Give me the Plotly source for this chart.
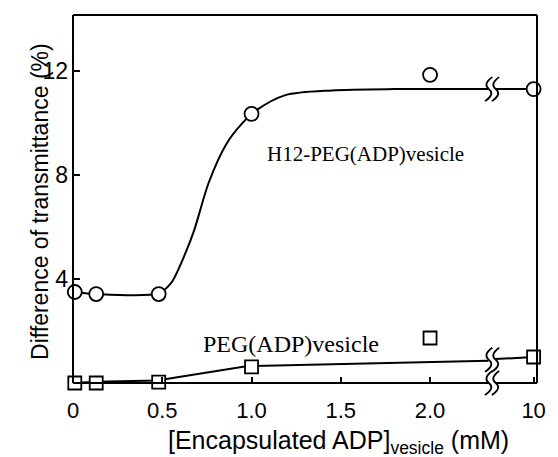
import plotly.graph_objects as go

# ---- measured data -------------------------------------------------------
# [Encapsulated ADP] (mM) for the points on the linear part of the axis
conc = [0.01, 0.13, 0.48, 1.0, 2.0]
conc_high_label = "10"          # the point beyond the axis break

# H12-PEG(ADP)vesicle
h12_y = [3.5, 3.42, 3.42, 10.35, 11.85]
h12_y_high = 11.3

# PEG(ADP)vesicle
peg_y = [0.0, 0.0, 0.03, 0.62, 1.73]
peg_y_high = 1.0

# guide curves drawn through the data
h12_fit_x = [0.01, 0.13, 0.48, 0.55, 0.63, 0.68, 0.76, 0.86, 0.95, 1.03, 1.19, 1.45, 1.8, 2.327]
h12_fit_y = [3.5, 3.42, 3.45, 3.85, 5.0, 5.9, 7.7, 9.2, 10.0, 10.5, 11.07, 11.25, 11.3, 11.3]
h12_fit_high_y = [11.3, 11.3]

peg_fit_x = [0.005, 0.13, 0.47, 0.98, 2.327]
peg_fit_y = [0.0, 0.05, 0.1, 0.65, 0.86]
peg_fit_high_y = [0.92, 1.0]

x_ticks = [0, 0.5, 1.0, 1.5, 2.0]
x_ticktext = ["0", "0.5", "1.0", "1.5", "2.0"]
y_ticks = [4, 8, 12]

# ---- axis geometry ---------------------------------------------------------
W, H = 558, 457
ML, MR, MT, MB = 73, 12, 15, 74
PW, PH = W - ML - MR, H - MT - MB
XR = [0, 2.599]
YR = [0, 14.15]
X_HIGH = 2.58        # axis position used for the 10 mM point
X_BREAK = 2.346      # centre of the break marks
X_SEG_END = 2.327    # lines stop / restart on either side of the break
X_SEG_START = 2.365

SANS = "Liberation Sans, Arial, sans-serif"
SERIF = "Liberation Serif, Times New Roman, serif"


def px(xd):
    return (xd - XR[0]) / (XR[1] - XR[0])


def py(yd):
    return (yd - YR[0]) / (YR[1] - YR[0])


def squiggle(xd, yd):
    """Two S-shaped strokes (in paper coords) marking an axis break."""
    cx, cy = px(xd), py(yd)
    paths = []
    for off in (-3.5, 3.5):
        pts = [(off + 4, -12), (off - 6, -5), (off + 0.5, 0),
               (off + 7, 5), (off - 3.5, 12)]
        p = [(cx + dx / PW, cy - dy / PH) for dx, dy in pts]
        paths.append(
            f"M {p[0][0]},{p[0][1]} Q {p[1][0]},{p[1][1]} {p[2][0]},{p[2][1]} "
            f"Q {p[3][0]},{p[3][1]} {p[4][0]},{p[4][1]}"
        )
    return [dict(type="path", xref="paper", yref="paper", path=s,
                 line=dict(color="black", width=1.8)) for s in paths]


fig = go.Figure()

line_style = dict(color="black", width=2)

# guide curves
fig.add_trace(go.Scatter(x=h12_fit_x, y=h12_fit_y, mode="lines",
                         line=dict(shape="spline", smoothing=0.8, **line_style),
                         hoverinfo="skip", showlegend=False, cliponaxis=False))
fig.add_trace(go.Scatter(x=[X_SEG_START, X_HIGH], y=h12_fit_high_y, mode="lines",
                         line=line_style, hoverinfo="skip", showlegend=False,
                         cliponaxis=False))
fig.add_trace(go.Scatter(x=peg_fit_x, y=peg_fit_y, mode="lines", line=line_style,
                         hoverinfo="skip", showlegend=False, cliponaxis=False))
fig.add_trace(go.Scatter(x=[X_SEG_START, X_HIGH], y=peg_fit_high_y, mode="lines",
                         line=line_style, hoverinfo="skip", showlegend=False,
                         cliponaxis=False))

# data points
all_x = conc + [X_HIGH]
fig.add_trace(go.Scatter(
    x=all_x, y=h12_y + [h12_y_high], mode="markers", name="H12-PEG(ADP)vesicle",
    marker=dict(symbol="circle", size=14, color="white",
                line=dict(color="black", width=1.8)),
    showlegend=False, cliponaxis=False))
fig.add_trace(go.Scatter(
    x=all_x, y=peg_y + [peg_y_high], mode="markers", name="PEG(ADP)vesicle",
    marker=dict(symbol="square", size=13, color="white",
                line=dict(color="black", width=1.8)),
    showlegend=False, cliponaxis=False))

# frame, with the bottom edge interrupted at the break
frame = dict(color="black", width=2)
shapes = [
    dict(type="line", xref="paper", yref="paper", x0=0, y0=0, x1=0, y1=1, line=frame),
    dict(type="line", xref="paper", yref="paper", x0=0, y0=1, x1=1, y1=1, line=frame),
    dict(type="line", xref="paper", yref="paper", x0=1, y0=0, x1=1, y1=1, line=frame),
    dict(type="line", xref="paper", yref="paper", x0=0, y0=0,
         x1=px(X_SEG_END), y1=0, line=frame),
    dict(type="line", xref="paper", yref="paper", x0=px(X_SEG_START), y0=0,
         x1=1, y1=0, line=frame),
]
shapes += squiggle(X_BREAK, 0)
shapes += squiggle(X_BREAK, h12_fit_high_y[0])
shapes += squiggle(X_BREAK, (peg_fit_y[-1] + peg_fit_high_y[0]) / 2)

annotations = [
    dict(text="H12-PEG(ADP)vesicle", x=1.64, y=8.8, xref="x", yref="y",
         showarrow=False, font=dict(family=SERIF, size=21, color="black")),
    dict(text="PEG(ADP)vesicle", x=1.22, y=1.5, xref="x", yref="y",
         showarrow=False, font=dict(family=SERIF, size=24, color="black")),
    dict(text="Difference of transmittance (%)", textangle=-90,
         x=(24 - ML) / PW, y=(H - MB - 201) / PH, xref="paper", yref="paper",
         showarrow=False, font=dict(family=SANS, size=23, color="black")),
    dict(text="[Encapsulated ADP]<sub>vesicle</sub> (mM)",
         x=(344 - ML) / PW, y=-(442 - (H - MB)) / PH, xref="paper", yref="paper",
         xanchor="center", yanchor="middle",
         showarrow=False, font=dict(family=SANS, size=25, color="black")),
]

fig.update_layout(
    width=W, height=H,
    margin=dict(l=ML, r=MR, t=MT, b=MB, pad=0),
    paper_bgcolor="white", plot_bgcolor="white",
    shapes=shapes, annotations=annotations,
    xaxis=dict(range=XR, tickvals=x_ticks + [X_HIGH],
               ticktext=x_ticktext + [conc_high_label],
               ticks="inside", ticklen=6, tickwidth=1.5, tickcolor="black",
               showline=False, showgrid=False, zeroline=False,
               ticklabelstandoff=12,
               tickfont=dict(family=SANS, size=22, color="black")),
    yaxis=dict(range=YR, tickvals=y_ticks, ticks="inside", ticklen=7,
               tickwidth=1.5, tickcolor="black", showline=False, showgrid=False,
               zeroline=False, ticklabelstandoff=4,
               tickfont=dict(family=SANS, size=23, color="black")),
)

fig.write_html("out.html")
